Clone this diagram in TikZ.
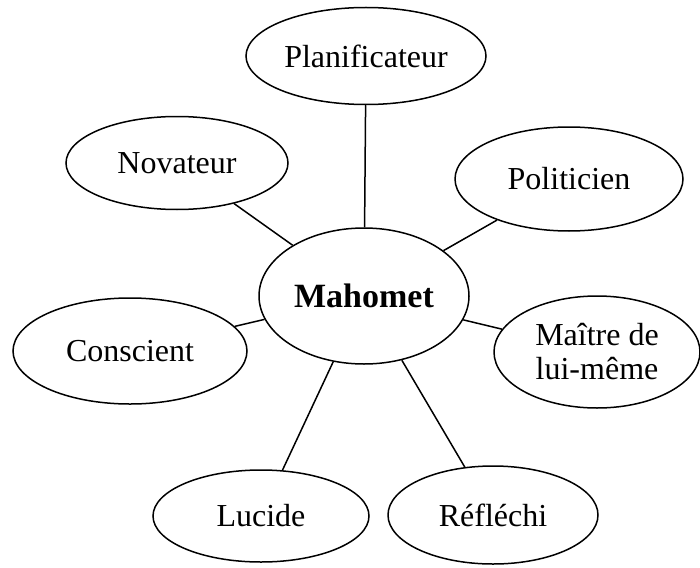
\documentclass[tikz,border=0pt]{standalone}
\usepackage{fontspec}
\setmainfont{Liberation Serif}
\usetikzlibrary{shapes.geometric}

\begin{document}
\begin{tikzpicture}[x=1pt, y=-1pt, line width=1.5pt,
	trait/.style={ellipse, draw, inner sep=0pt, align=center, font=\fontsize{32}{34}\selectfont},
	centre/.style={trait, font=\fontsize{34}{37}\selectfont\bfseries}]
			\useasboundingbox (0,0) rectangle (700,567);
			
			\node[centre, minimum width=210pt, minimum height=136pt] (mah) at (364,296) {Mahomet};
			\node[trait, minimum width=240pt, minimum height=97pt] (plan) at (366,56) {Planificateur};
			\node[trait, minimum width=222pt, minimum height=93pt] (nov) at (177,163) {Novateur};
			\node[trait, minimum width=228pt, minimum height=104pt] (pol) at (569,179) {Politicien};
			\node[trait, minimum width=234pt, minimum height=106pt] (cons) at (130,351) {Conscient};
			\node[trait, minimum width=206pt, minimum height=112pt] (maitre) at (597,352) {Maître de\\lui-même};
			\node[trait, minimum width=216pt, minimum height=92pt] (luc) at (261,516) {Lucide};
			\node[trait, minimum width=210pt, minimum height=98pt] (refl) at (493,515) {Réfléchi};
			
			\draw
			(mah) -- (plan)
			(mah) -- (nov)
			(mah) -- (pol)
			(mah) -- (cons)
			(mah) -- (maitre)
			(mah) -- (luc)
			(mah) -- (refl);
			
		\end{tikzpicture}
\end{document}
